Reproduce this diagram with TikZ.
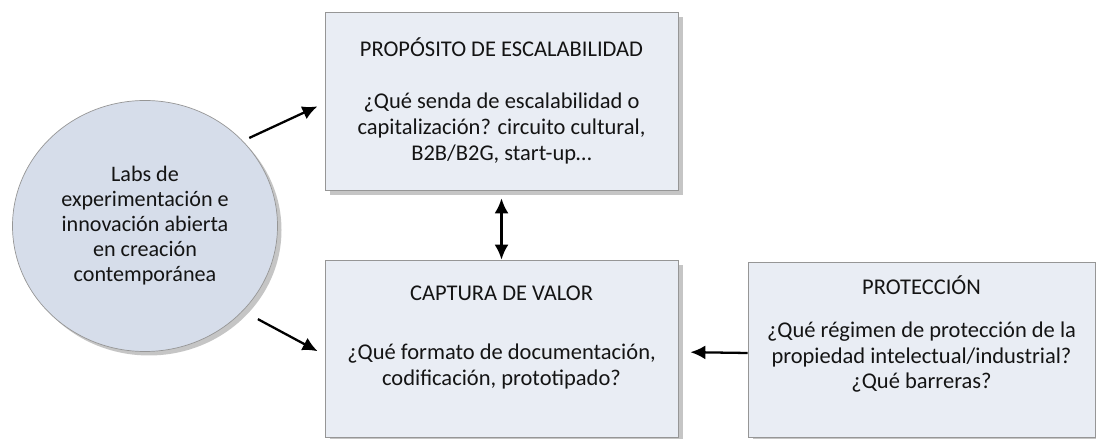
\documentclass[tikz,border=0pt]{standalone}
\usepackage{fontspec}
\setmainfont{Carlito}
\usepackage{xcolor}
\usetikzlibrary{shapes.geometric, arrows.meta, positioning, shadows}
\definecolor{labsblue}{RGB}{214, 221, 234}
\definecolor{boxblue}{RGB}{233, 237, 244}
\definecolor{edgegray}{RGB}{150, 150, 150}
\definecolor{textgray}{RGB}{20, 20, 20}
\tikzstyle{labnode} = [ellipse, minimum width=5.3cm, minimum height=5.02cm, align=center, draw=edgegray, fill=labsblue, text=textgray, font=\fontsize{12.6}{14.2}\selectfont, drop shadow={shadow xshift=0.08cm, shadow yshift=-0.08cm, fill=black!45, opacity=0.5}]
\tikzstyle{mainnode} = [rectangle, minimum width=7.06cm, minimum height=3.54cm, align=center, draw=edgegray, fill=boxblue, text=textgray, font=\fontsize{12.8}{14.7}\selectfont, drop shadow={shadow xshift=0.1cm, shadow yshift=-0.1cm, fill=black!45, opacity=0.5}]
\tikzstyle{arrow} = [line width=1.3pt, -{Latex[length=0.3cm, width=0.28cm]}]
\tikzstyle{darrow} = [line width=1.3pt, {Latex[length=0.3cm, width=0.28cm]}-{Latex[length=0.3cm, width=0.28cm]}]

\begin{document}
\begin{tikzpicture}
        \useasboundingbox (0,0) rectangle (21.92,8.78);
        % Main components
        \node[labnode] (labs) at (2.90,4.26) {Labs de\\experimentación e\\innovación abierta\\en creación\\contemporánea};
        \node[mainnode, minimum height=3.56cm] (escala) at (10.03,6.76) {PROPÓSITO DE ESCALABILIDAD\\[14.8pt]¿Qué senda de escalabilidad o\\capitalización? circuito cultural,\\B2B/B2G, start-up…};
        \node[mainnode] (captura) at (10.03,1.81) {CAPTURA DE VALOR\\[19.3pt]¿Qué formato de documentación,\\codificación, prototipado?\\\mbox{}};
        \node[mainnode, minimum width=6.94cm, minimum height=3.5cm] (proteccion) at (18.43,1.79) {PROTECCIÓN\\[9.7pt]¿Qué régimen de protección de la\\propiedad intelectual/industrial?\\¿Qué barreras?\\[5pt]\mbox{}};

        % Connections
        \draw[arrow, shorten <=0.14cm, shorten >=0.16cm] (labs.41) -- ([yshift=-0.04cm]escala.west);
        \draw[arrow, shorten <=0.34cm, shorten >=0.16cm] (labs.-41) -- ([yshift=-0.13cm]captura.west);
        \draw[darrow, shorten <=0.16cm] (escala.south) -- (captura.north);
        \draw[arrow, shorten >=0.24cm] ([yshift=-0.07cm]proteccion.west) -- ([yshift=-0.07cm]captura.east);
    \end{tikzpicture}
\end{document}
